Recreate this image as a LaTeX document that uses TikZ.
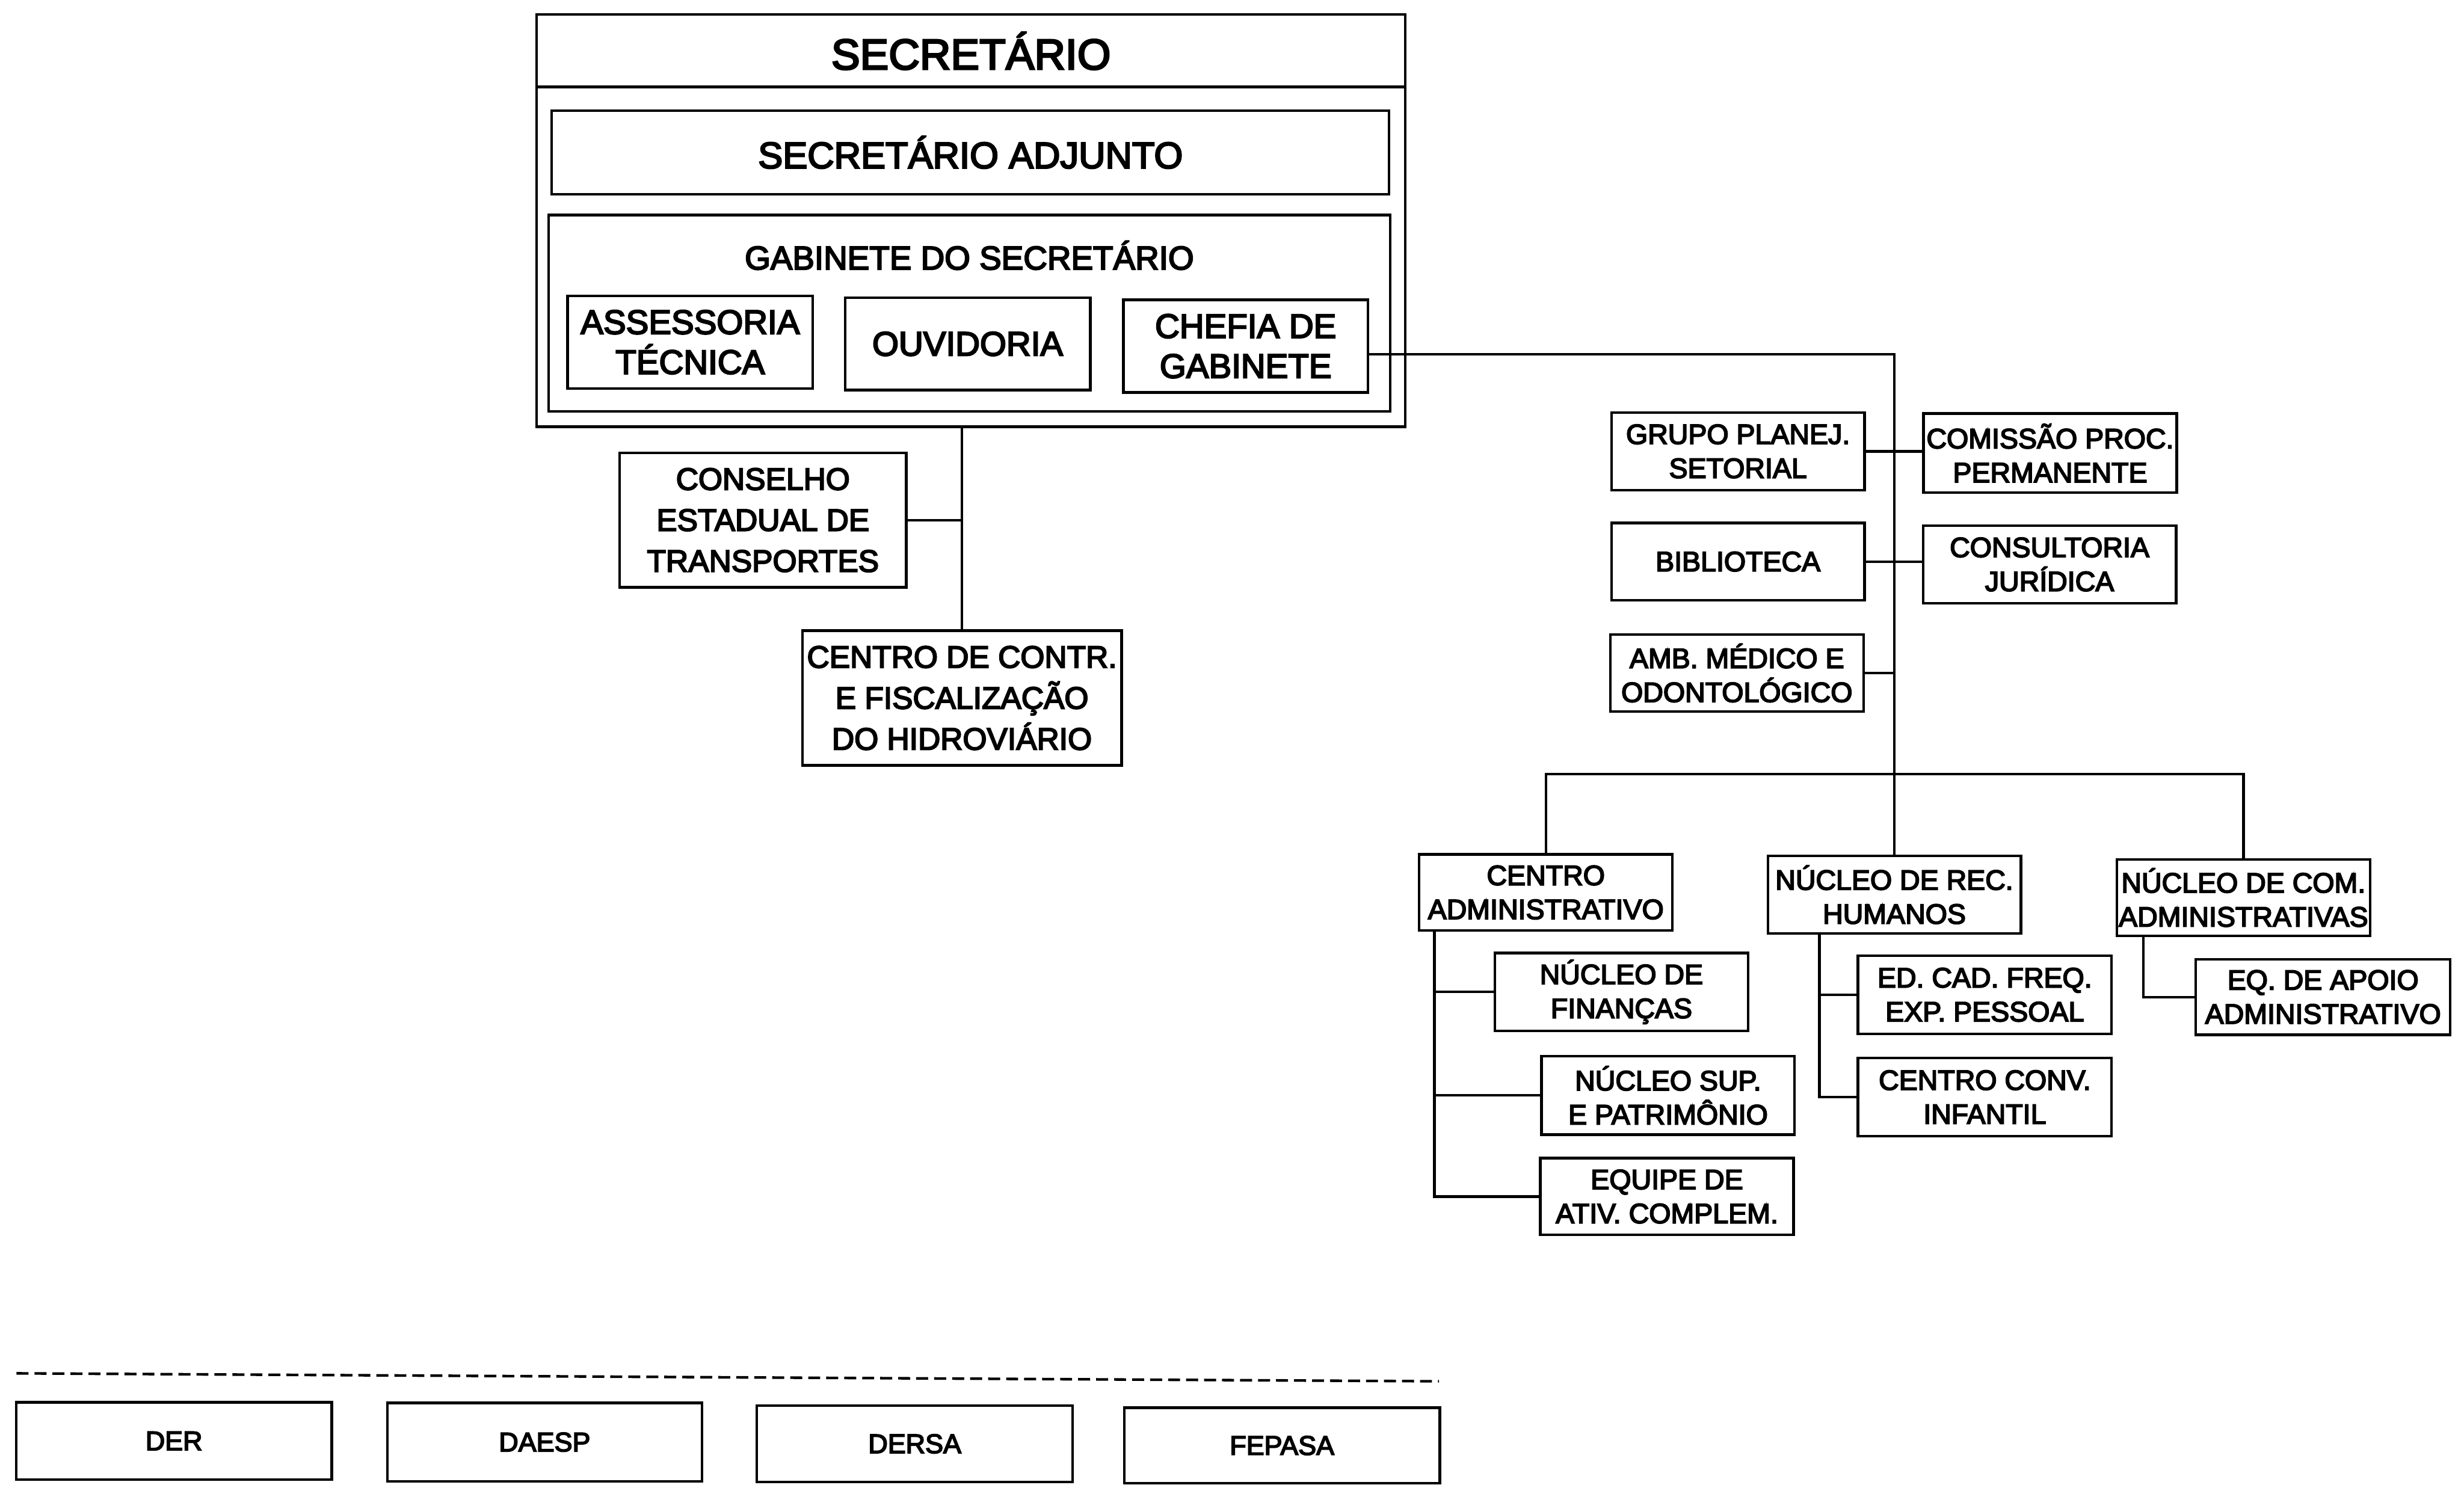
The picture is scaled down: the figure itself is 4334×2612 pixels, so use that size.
\documentclass[tikz,border=0pt]{standalone}
\usepackage{fontspec}
\setmainfont{Liberation Sans}[FakeBold=4]
\usetikzlibrary{calc}
\tikzstyle{caixa}=[rectangle, draw, line width=1.3pt, align=center, inner sep=0.5pt, minimum width=4.45cm, minimum height=1.36cm, font=\fontsize{14}{17}\selectfont]
\tikzstyle{grande}=[caixa, font=\fontsize{17}{20}\selectfont]
\tikzstyle{medio}=[caixa, font=\fontsize{15.5}{20.5}\selectfont]
\tikzstyle{baixo}=[caixa, minimum width=5.55cm, minimum height=1.36cm, font=\fontsize{13.5}{16}\selectfont]
\tikzstyle{liga}=[line width=1.3pt]
\tikzstyle{tracejado}=[line width=1.3pt, dash pattern=on 6pt off 3pt]

\begin{document}
\begin{tikzpicture}[x=0.01cm, y=-0.01cm]
\useasboundingbox (0,0) rectangle (4334,2612);

% secretario e gabinete
\node[caixa, minimum width=15.27cm, minimum height=7.25cm] (sec) at (1708,388) {};
\node[anchor=base, font=\fontsize{21.5}{24}\selectfont] (sectxt) at (1708,122) {SECRETÁRIO};
\coordinate (div) at (1708,153);
\draw[liga] (sec.west |- div) -- (sec.east |- div);
\node[caixa, minimum width=14.72cm, minimum height=1.47cm, font=\fontsize{18.5}{22}\selectfont] (adj) at (1707,268) {SECRETÁRIO ADJUNTO};
\node[caixa, minimum width=14.79cm, minimum height=3.45cm] (gab) at (1705,551) {};
\node[anchor=base, font=\fontsize{16.5}{20}\selectfont] (gabtxt) at (1705,474) {GABINETE DO SECRETÁRIO};
\node[grande, minimum width=4.31cm, minimum height=1.63cm] (asses) at (1214,602) {ASSESSORIA\\TÉCNICA};
\node[grande, minimum width=4.31cm, minimum height=1.62cm] (ouv) at (1702,605) {OUVIDORIA};
\node[grande, minimum width=4.30cm, minimum height=1.63cm] (chefia) at (2191,609) {CHEFIA DE\\GABINETE};

% lado esquerdo
\node[medio, minimum width=5.04cm, minimum height=2.36cm] (cet) at (1342,915) {CONSELHO\\ESTADUAL DE\\TRANSPORTES};
\node[medio, minimum width=5.61cm, minimum height=2.37cm] (ccf) at (1692,1228) {CENTRO DE CONTR.\\E FISCALIZAÇÃO\\DO HIDROVIÁRIO};
\draw[liga] (ccf.north |- sec.south) -- (ccf.north);
\draw[liga] (cet.east) -- (cet.east -| ccf.north);

% assessorias da chefia
\node[caixa] (gps) at (3057,794) {GRUPO PLANEJ.\\SETORIAL};
\node[caixa, minimum height=1.39cm] (cpp) at (3606,797) {COMISSÃO PROC.\\PERMANENTE};
\node[caixa] (bib) at (3057,988) {BIBLIOTECA};
\node[caixa] (cj) at (3605,993) {CONSULTORIA\\JURÍDICA};
\node[caixa] (amb) at (3055,1184) {AMB. MÉDICO E\\ODONTOLÓGICO};

\node[caixa, minimum height=1.34cm] (cadm) at (2719,1570) {CENTRO\\ADMINISTRATIVO};
\node[caixa] (nrh) at (3332,1574) {NÚCLEO DE REC.\\HUMANOS};
\node[caixa, minimum height=1.34cm] (ncom) at (3946,1579) {NÚCLEO DE COM.\\ADMINISTRATIVAS};

\coordinate (sai) at ([yshift=-0.14cm]chefia.east);
\draw[liga] (sai) -- (sai -| nrh.north) -- (nrh.north);
\draw[liga] (gps.east) -- (gps.east -| cpp.west);
\draw[liga] (bib.east) -- (bib.east -| cj.west);
\draw[liga] (amb.east) -- (amb.east -| nrh.north);
\coordinate (ramo) at (3332,1362);
\draw[liga] (cadm.north) |- (ramo) -| (ncom.north);

% centro administrativo
\node[caixa, minimum height=1.37cm] (nf) at (2852,1745) {NÚCLEO DE\\FINANÇAS};
\node[caixa, minimum height=1.38cm] (nsp) at (2934,1927) {NÚCLEO SUP.\\E PATRIMÔNIO};
\node[caixa, minimum height=1.35cm] (eac) at (2932,2105) {EQUIPE DE\\ATIV. COMPLEM.};
\coordinate (ca) at ([xshift=0.29cm]cadm.south west);
\draw[liga] (ca) |- (eac.west);
\draw[liga] (ca |- nf.west) -- (nf.west);
\draw[liga] (ca |- nsp.west) -- (nsp.west);

% recursos humanos
\node[caixa, minimum width=4.46cm, minimum height=1.37cm] (edc) at (3491,1750) {ED. CAD. FREQ.\\EXP. PESSOAL};
\node[caixa, minimum width=4.46cm, minimum height=1.37cm] (cci) at (3491,1930) {CENTRO CONV.\\INFANTIL};
\coordinate (rh) at ([xshift=0.93cm]nrh.south west);
\draw[liga] (rh) |- (cci.west);
\draw[liga] (rh |- edc.west) -- (edc.west);

% comunicacoes administrativas
\node[caixa, minimum width=4.47cm, minimum height=1.33cm] (eqa) at (4086,1754) {EQ. DE APOIO\\ADMINISTRATIVO};
\coordinate (cm) at ([xshift=0.49cm]ncom.south west);
\draw[liga] (cm) |- (eqa.west);

% entidades vinculadas
\draw[tracejado] (29,2416) -- (2531,2430);
\node[baixo] (der) at (306,2535) {DER};
\node[baixo, minimum width=5.53cm, minimum height=1.38cm] (daesp) at (958,2537) {DAESP};
\node[baixo, minimum height=1.34cm] (dersa) at (1609,2540) {DERSA};
\node[baixo, minimum height=1.33cm] (fepasa) at (2255,2543) {FEPASA};

\end{tikzpicture}
\end{document}
